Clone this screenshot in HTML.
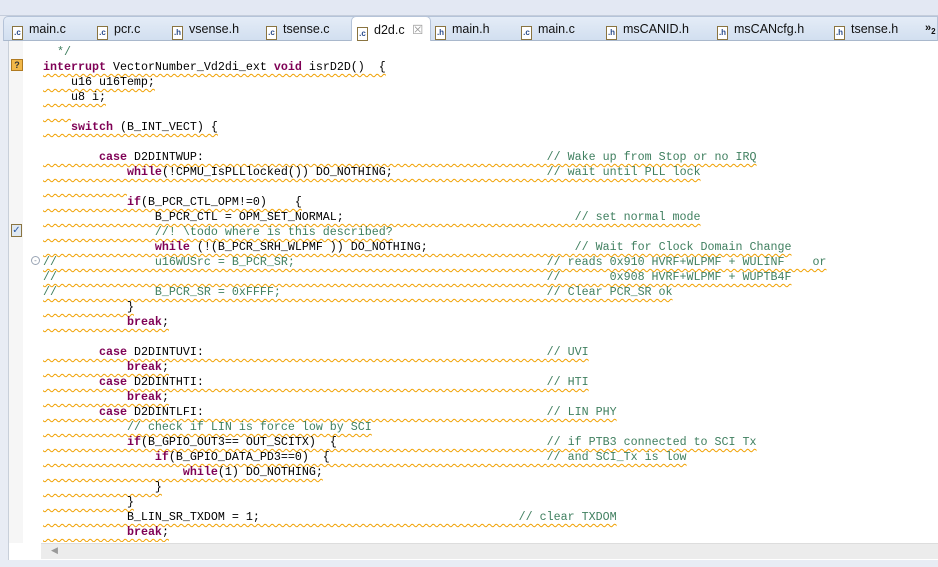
<!DOCTYPE html>
<html><head><meta charset="utf-8"><style>
*{margin:0;padding:0;box-sizing:border-box}
body{width:938px;height:567px;overflow:hidden;background:#e8ecf4;font-family:"Liberation Sans",sans-serif;position:relative}
.top{position:absolute;left:0;top:0;width:938px;height:16px;background:#e3e8f3;border-bottom:1px solid #c5cddb}
.tabs{position:absolute;left:3px;top:16px;width:935px;height:25px;background:linear-gradient(#e4ecf7,#d2dff0);border:1px solid #b5c3d8;border-bottom:1px solid #a9b8cc;border-radius:5px 0 0 0}
.tab{position:absolute;top:5px;font-size:12.5px;color:#111;white-space:nowrap}
.ic{display:inline-block;width:11px;height:14px;border:1px solid #8a7440;background:#fff;font-size:8px;line-height:12px;text-align:center;color:#2a4b8a;margin-right:6px;vertical-align:-2px;font-weight:bold}
.act{position:absolute;left:347px;top:-1px;width:80px;height:26px;background:#fff;border:1px solid #b5c3d8;border-bottom:none;border-radius:5px 5px 0 0}
.ed{position:absolute;left:8px;top:41px;width:930px;height:519px;background:#fff;border-left:1px solid #c8cfd9}
.gut{position:absolute;left:0;top:0;width:14px;height:502px;background:#f6f6f6}
.code{position:absolute;left:34px;top:4px;width:896px;height:497px;overflow:hidden;font-family:"Liberation Mono",monospace;font-size:11.67px;color:#000}
.l{height:15px;line-height:15px;white-space:pre}
.l>span.u{text-decoration:underline wavy #f0a000;text-decoration-thickness:1px;text-underline-offset:3px}
.k{color:#7f0055;font-weight:bold}
.c{color:#3f7f5f}
.sb{position:absolute;left:32px;top:502px;width:898px;height:16px;background:#ececec;border-top:1px solid #ddd}
</style></head><body>
<div class="top"></div>
<div class="tabs">
<div class="act"></div>
<div class="tab" style="left:8px"><span class="ic">.c</span>main.c</div>
<div class="tab" style="left:93px"><span class="ic">.c</span>pcr.c</div>
<div class="tab" style="left:168px"><span class="ic">.h</span>vsense.h</div>
<div class="tab" style="left:262px"><span class="ic">.c</span>tsense.c</div>
<div class="tab" style="left:353px"><span class="ic">.c</span>d2d.c <span style="color:#999;margin-left:4px">☒</span></div>
<div class="tab" style="left:431px"><span class="ic">.h</span>main.h</div>
<div class="tab" style="left:517px"><span class="ic">.c</span>main.c</div>
<div class="tab" style="left:602px"><span class="ic">.h</span>msCANID.h</div>
<div class="tab" style="left:713px"><span class="ic">.h</span>msCANcfg.h</div>
<div class="tab" style="left:830px"><span class="ic">.h</span>tsense.h</div>
<div class="tab" style="left:921px;font-size:11px;font-weight:bold">»<sub style="font-size:8px">2</sub></div>
</div>
<div class="ed">
<div class="gut"></div>
<div style="position:absolute;left:2px;top:18px;width:12px;height:12px;background:#f2b84a;border:1px solid #b07a20;font-size:9px;line-height:10px;text-align:center;font-weight:bold;color:#333">?</div>
<div style="position:absolute;left:2px;top:183px;width:11px;height:13px;background:#dfe8f2;border:1px solid #8a7440;color:#2a5aa8;font-size:10px;line-height:11px;text-align:center">✓</div>
<div style="position:absolute;left:22px;top:215px;width:9px;height:9px;border:1px solid #9aa5b5;border-radius:50%;font-size:8px;line-height:7px;text-align:center;color:#7a8595">-</div>
<div class="code">
<div class="l"><span class="c">  */</span></div>
<div class="l"><span class="u"><span class="k">interrupt</span> VectorNumber_Vd2di_ext <span class="k">void</span> isrD2D()  {</span></div>
<div class="l"><span class="u">    u16 u16Temp;</span></div>
<div class="l"><span class="u">    u8 i;</span></div>
<div class="l"><span class="u">    </span></div>
<div class="l"><span class="u">    <span class="k">switch</span> (B_INT_VECT) {</span></div>
<div class="l"> </div>
<div class="l"><span class="u">        <span class="k">case</span> D2DINTWUP:                                                 <span class="c">// Wake up from Stop or no IRQ</span></span></div>
<div class="l"><span class="u">            <span class="k">while</span>(!CPMU_IsPLLlocked()) DO_NOTHING;                      <span class="c">// wait until PLL lock</span></span></div>
<div class="l"><span class="u">            </span></div>
<div class="l"><span class="u">            <span class="k">if</span>(B_PCR_CTL_OPM!=0)    {</span></div>
<div class="l"><span class="u">                B_PCR_CTL = OPM_SET_NORMAL;                                 <span class="c">// set normal mode</span></span></div>
<div class="l"><span class="u">                <span class="c">//! \todo where is this described?</span></span></div>
<div class="l"><span class="u">                <span class="k">while</span> (!(B_PCR_SRH_WLPMF )) DO_NOTHING;                     <span class="c">// Wait for Clock Domain Change</span></span></div>
<div class="l"><span class="u c">//              u16WUSrc = B_PCR_SR;                                    // reads 0x910 HVRF+WLPMF + WULINF    or</span></div>
<div class="l"><span class="u c">//                                                                      //       0x908 HVRF+WLPMF + WUPTB4F</span></div>
<div class="l"><span class="u c">//              B_PCR_SR = 0xFFFF;                                      // Clear PCR_SR ok</span></div>
<div class="l"><span class="u">            }</span></div>
<div class="l"><span class="u">            <span class="k">break</span>;</span></div>
<div class="l"> </div>
<div class="l"><span class="u">        <span class="k">case</span> D2DINTUVI:                                                 <span class="c">// UVI</span></span></div>
<div class="l"><span class="u">            <span class="k">break</span>;</span></div>
<div class="l"><span class="u">        <span class="k">case</span> D2DINTHTI:                                                 <span class="c">// HTI</span></span></div>
<div class="l"><span class="u">            <span class="k">break</span>;</span></div>
<div class="l"><span class="u">        <span class="k">case</span> D2DINTLFI:                                                 <span class="c">// LIN PHY</span></span></div>
<div class="l"><span class="u">            <span class="c">// check if LIN is force low by SCI</span></span></div>
<div class="l"><span class="u">            <span class="k">if</span>(B_GPIO_OUT3== OUT_SCITX)  {                              <span class="c">// if PTB3 connected to SCI Tx</span></span></div>
<div class="l"><span class="u">                <span class="k">if</span>(B_GPIO_DATA_PD3==0)  {                               <span class="c">// and SCI_Tx is low</span></span></div>
<div class="l"><span class="u">                    <span class="k">while</span>(1) DO_NOTHING;</span></div>
<div class="l"><span class="u">                }</span></div>
<div class="l"><span class="u">            }</span></div>
<div class="l"><span class="u">            B_LIN_SR_TXDOM = 1;                                     <span class="c">// clear TXDOM</span></span></div>
<div class="l"><span class="u">            <span class="k">break</span>;</span></div>
<div class="l">        <span class="k">case</span> D2DINTSHO</div>
</div>
<div class="sb"><span style="position:absolute;left:10px;top:1px;font-size:9px;color:#999">◀</span></div>
</div>
</body></html>
